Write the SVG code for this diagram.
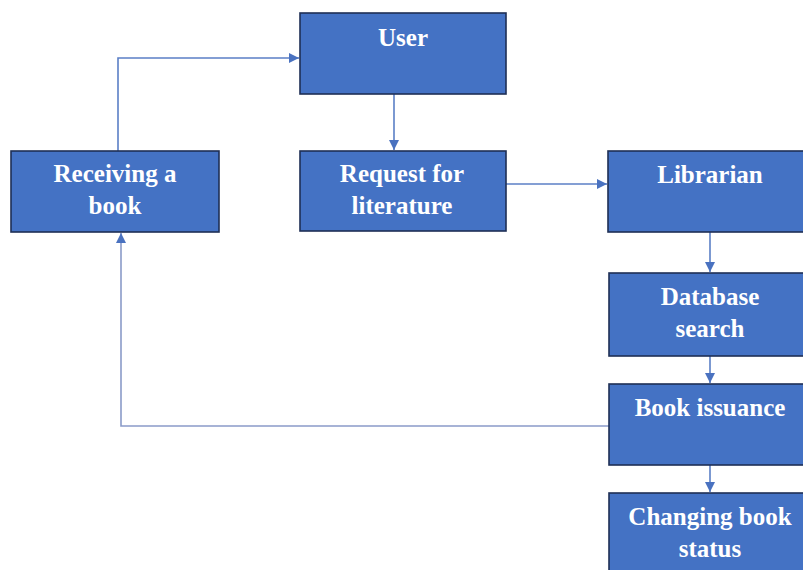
<svg xmlns="http://www.w3.org/2000/svg" width="803" height="570" viewBox="0 0 803 570">
  <defs>
    <style>
      .box { fill: #4472C4; stroke: #1F2F55; stroke-width: 1.6; }
      .lbl { font-family: "Liberation Serif", "Times New Roman", serif; font-weight: bold; font-size: 25px; fill: #FFFFFF; text-anchor: middle; }
      .conn { fill: none; stroke: #5B7FC6; stroke-width: 1.6; }
    </style>
    <marker id="arr" viewBox="0 0 10 10" refX="10" refY="5" markerWidth="10" markerHeight="10" markerUnits="userSpaceOnUse" orient="auto">
      <path d="M0,0 L10,5 L0,10 z" fill="#4A72C0"/>
    </marker>
  </defs>
  <rect width="803" height="570" fill="#FFFFFF"/>

  <g id="connectors">
    <path class="conn" d="M118,151 V58 H299" marker-end="url(#arr)"/>
    <path class="conn" d="M394,94 V150" marker-end="url(#arr)"/>
    <path class="conn" d="M506,184 H607" marker-end="url(#arr)"/>
    <path class="conn" d="M710,232 V272" marker-end="url(#arr)"/>
    <path class="conn" d="M710,356 V383" marker-end="url(#arr)"/>
    <path class="conn" d="M710,465 V492" marker-end="url(#arr)"/>
    <path class="conn" d="M609,426 H121 V233" marker-end="url(#arr)" style="stroke:#8A9BC9"/>
  </g>

  <g id="user">
    <rect class="box" x="300" y="13" width="206" height="81"/>
    <text class="lbl" x="403" y="46">User</text>
  </g>
  <g id="receiving">
    <rect class="box" x="11" y="151" width="208" height="81"/>
    <text class="lbl" x="115" y="182">Receiving a</text>
    <text class="lbl" x="115" y="214">book</text>
  </g>
  <g id="request">
    <rect class="box" x="300" y="151" width="206" height="80"/>
    <text class="lbl" x="402" y="182">Request for</text>
    <text class="lbl" x="402" y="214">literature</text>
  </g>
  <g id="librarian">
    <rect class="box" x="608" y="151" width="206" height="81"/>
    <text class="lbl" x="710" y="183">Librarian</text>
  </g>
  <g id="database">
    <rect class="box" x="609" y="273" width="206" height="83"/>
    <text class="lbl" x="710" y="305">Database</text>
    <text class="lbl" x="710" y="337">search</text>
  </g>
  <g id="issuance">
    <rect class="box" x="609" y="384" width="206" height="81"/>
    <text class="lbl" x="710" y="416">Book issuance</text>
  </g>
  <g id="changing">
    <rect class="box" x="609" y="493" width="206" height="100"/>
    <text class="lbl" x="710" y="525">Changing book</text>
    <text class="lbl" x="710" y="557">status</text>
  </g>
</svg>
